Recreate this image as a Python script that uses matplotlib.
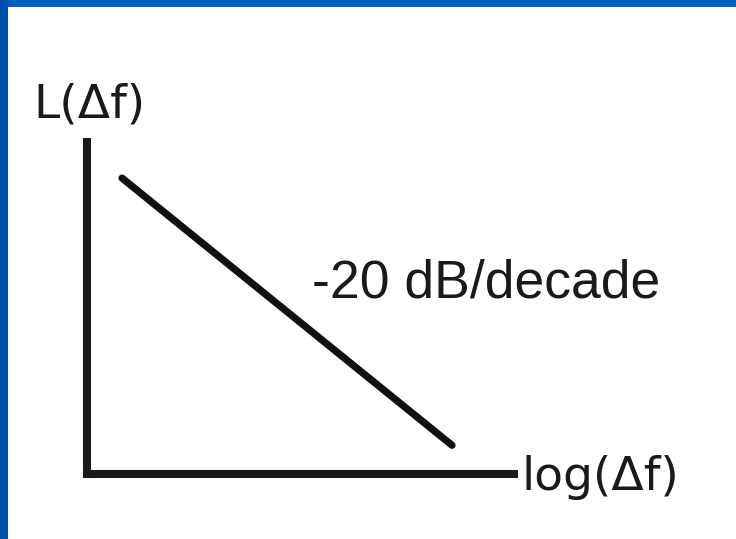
import matplotlib
matplotlib.use('Agg')
import matplotlib.pyplot as plt
from matplotlib.patches import Rectangle

# Data: phase noise slope sketch, L(df) vs log(df)
log_df = [0.35, 3.65]          # decades
L_db = [-90.0, -156.0]         # dB, drop of 20 dB per decade
slope_label = '-20 dB/decade'
x_label = 'log(\u0394f)'
y_label = 'L(\u0394f)'

W, H = 736, 539
fig = plt.figure(figsize=(W / 100, H / 100), dpi=100)
fig.patch.set_facecolor('white')

# slide frame (blue bands on top and left)
fig.patches.append(Rectangle((0, 1 - 7 / H), 1, 7 / H, transform=fig.transFigure,
                             facecolor='#0060BF', edgecolor='none', zorder=0))
fig.patches.append(Rectangle((0, 0), 8 / W, 1, transform=fig.transFigure,
                             facecolor='#0052A8', edgecolor='none', zorder=0))

# axes box (spine caps project by half the line width)
left, bottom, right, top = 87, 474, 514, 142
ax = fig.add_axes([left / W, (H - bottom) / H, (right - left) / W, (bottom - top) / H])
ax.set_xlim(0, (right - left) / 100)
ax.set_ylim(-163.1, -163.1 + 83.0 * (bottom - top) / 336)
ax.plot(log_df, L_db, color='#111111', lw=5.2, solid_capstyle='round')

for s in ['top', 'right']:
    ax.spines[s].set_visible(False)
for s in ['left', 'bottom']:
    ax.spines[s].set_linewidth(5.8)
    ax.spines[s].set_color('#1a1a1a')
    ax.spines[s].set_capstyle('projecting')
ax.set_xticks([])
ax.set_yticks([])
ax.patch.set_alpha(0)

fig.text(33 / W, 1 - 117 / H, y_label, fontsize=34, family='DejaVu Sans',
         color='#1a1a1a', va='baseline', ha='left')
fig.text(521 / W, 1 - 490 / H, x_label, fontsize=34, family='DejaVu Sans',
         color='#1a1a1a', va='baseline', ha='left')
fig.text(312 / W, 1 - 297 / H, slope_label, fontsize=38.5, family='Liberation Sans',
         color='#1a1a1a', va='baseline', ha='left')

fig.savefig('out.png', dpi=100)
